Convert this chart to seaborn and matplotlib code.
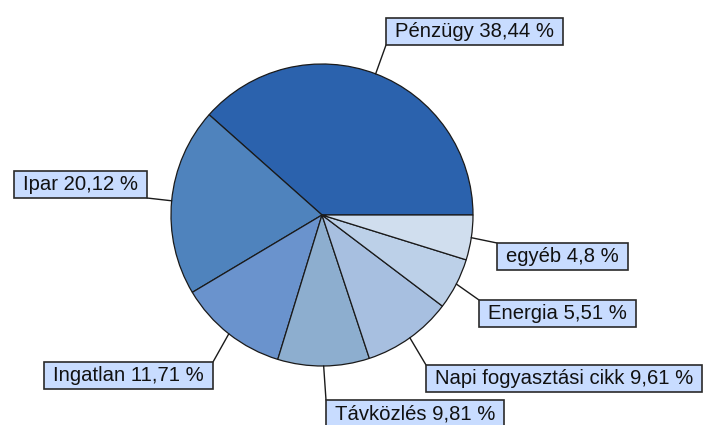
import matplotlib
matplotlib.use("Agg")
import matplotlib.pyplot as plt
from matplotlib.patches import Rectangle
import seaborn as sns
import numpy as np

sectors = ["Pénzügy", "Ipar", "Ingatlan", "Távközlés",
           "Napi fogyasztási cikk", "Energia", "egyéb"]
shares = [38.44, 20.12, 11.71, 9.81, 9.61, 5.51, 4.8]
share_text = ["38,44", "20,12", "11,71", "9,81", "9,61", "5,51", "4,8"]
colors = ["#2B62AD", "#4F83BD", "#6A93CD", "#8DAECF",
          "#A7BFE0", "#BCD0E8", "#D0DEEE"]

# label box corner (pixels from top-left), alignment, leader attach point on box
label_layout = [
    (386, 45, "left", "bottom", (0, 0)),
    (147, 198, "right", "bottom", (1, 0)),
    (213, 362, "right", "top", (1, 1)),
    (326, 400, "left", "top", (0, 1)),
    (426, 365, "left", "top", (0, 1)),
    (479, 300, "left", "top", (0, 1)),
    (497, 243, "left", "top", (0, 1)),
]

sns.set_theme(style="white")
plt.rcParams["font.family"] = ["Liberation Sans", "DejaVu Sans"]

W, H = 709, 425
fig = plt.figure(figsize=(W / 100, H / 100), dpi=100)
ax = fig.add_axes([0, 0, 1, 1])

cx, cy, r = 322, H - 215, 151
wedges, _ = ax.pie(shares, colors=colors, startangle=0, counterclock=True,
                   center=(cx, cy), radius=r, frame=True,
                   wedgeprops=dict(edgecolor="#1a1a1a", linewidth=0.9))
ax.set_xlim(0, W)
ax.set_ylim(0, H)
ax.set_aspect("equal")
ax.axis("off")

fs = 14.6
padx, pady = 9, 4

texts = []
for name, txt, (bx, by, ha, va, rel) in zip(sectors, share_text, label_layout):
    tx = bx + padx if ha == "left" else bx - padx
    ty = by - pady if va == "bottom" else by + pady
    t = ax.text(tx, H - ty, f"{name} {txt} %", ha=ha, va=va, fontsize=fs,
                color="#111111", zorder=5)
    texts.append(t)

fig.canvas.draw()
inv = ax.transData.inverted()
for w, t, (bx, by, ha, va, rel) in zip(wedges, texts, label_layout):
    ext = t.get_window_extent()
    (x0, y0), (x1, y1) = inv.transform([[ext.x0, ext.y0], [ext.x1, ext.y1]])
    x0, x1, y0, y1 = x0 - padx, x1 + padx, y0 - pady, y1 + pady
    ax.add_patch(Rectangle((x0, y0), x1 - x0, y1 - y0, fc="#C8DCFF",
                           ec="#2a2a2a", lw=1.2, zorder=4))
    mid = np.deg2rad((w.theta1 + w.theta2) / 2)
    px, py = cx + r * np.cos(mid), cy + r * np.sin(mid)
    ex = x0 + rel[0] * (x1 - x0)
    ey = y0 + rel[1] * (y1 - y0)
    ax.plot([px, ex], [py, ey], color="#1a1a1a", lw=1, zorder=3)

fig.savefig("out.png", dpi=100, facecolor="white")
